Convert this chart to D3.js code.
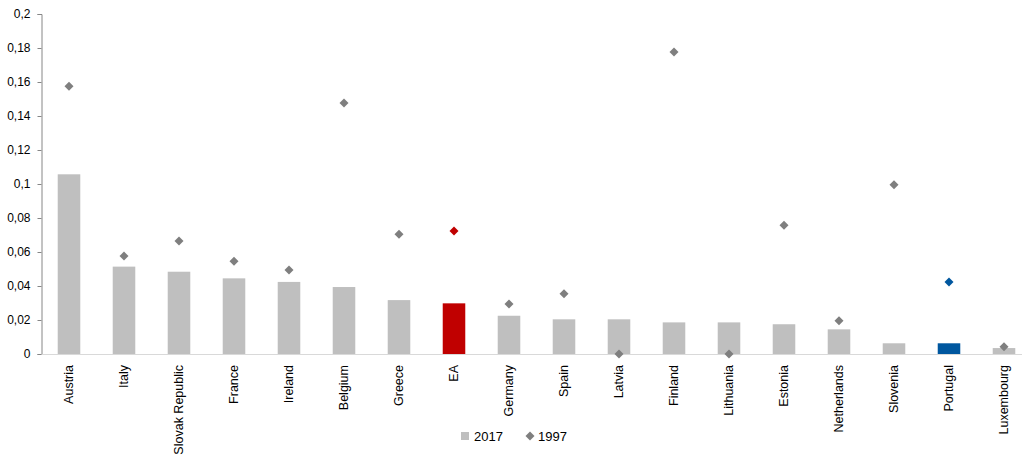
<!DOCTYPE html>
<html>
<head>
<meta charset="utf-8">
<script src="https://cdn.jsdelivr.net/npm/d3@7"></script>
<style>
  html, body { margin: 0; padding: 0; background: #fff; }
  svg { display: block; }
  text { font-family: "Liberation Sans", Arial, sans-serif; fill: #000; }
</style>
</head>
<body>
<svg id="chart" width="1022" height="458"></svg>
<script>
const categories = ["Austria","Italy","Slovak Republic","France","Ireland","Belgium","Greece","EA","Germany","Spain","Latvia","Finland","Lithuania","Estonia","Netherlands","Slovenia","Portugal","Luxembourg"];
const values2017 = [0.1057,0.0514,0.0484,0.0445,0.0424,0.0394,0.0317,0.0298,0.0225,0.0204,0.0204,0.0186,0.0186,0.0175,0.0145,0.0063,0.0063,0.0035];
const values1997 = [0.1575,0.0576,0.0665,0.0545,0.0494,0.1476,0.0704,0.0724,0.0294,0.0355,0.0000,0.1776,0.0000,0.0757,0.0196,0.0996,0.0424,0.0043];
const yTicks = [0,0.02,0.04,0.06,0.08,0.1,0.12,0.14,0.16,0.18,0.2];
const seriesNames = ["2017","1997"];

const svg = d3.select("#chart");
const mLeft = 41.5, mRight = 1031.5, mTop = 14, mBottom = 354;

const x = d3.scaleBand().domain(categories).range([mLeft, mRight]).paddingInner(0.59).paddingOuter(0.295);
const y = d3.scaleLinear().domain([0, 0.2]).range([mBottom, mTop]);

const barColor = c => c === "EA" ? "#c00000" : (c === "Portugal" ? "#00579f" : "#bfbfbf");
const dotColor = c => c === "EA" ? "#c00000" : (c === "Portugal" ? "#00579f" : "#7f7f7f");
const diamond = r => `M0,${-r}L${r},0L0,${r}L${-r},0Z`;
const fmt = v => String(+v.toFixed(2)).replace(".", ",");

// Y axis
const yAxis = svg.append("g").attr("transform", `translate(${mLeft},0)`)
  .call(d3.axisLeft(y).tickValues(yTicks).tickSize(4).tickPadding(7).tickFormat(fmt));
yAxis.select(".domain").attr("stroke", "#868686");
yAxis.selectAll(".tick line").attr("stroke", "#868686");
yAxis.selectAll(".tick text").attr("font-size", "12px").attr("fill", "#000").style("font-family", "'Liberation Sans', Arial, sans-serif");

// Bars
svg.append("g").selectAll("rect").data(categories).join("rect")
  .attr("x", c => x(c))
  .attr("width", x.bandwidth())
  .attr("y", (c, i) => y(values2017[i]))
  .attr("height", (c, i) => y(0) - y(values2017[i]))
  .attr("fill", barColor);

// X axis
const xAxis = svg.append("g").attr("transform", `translate(0,${mBottom})`)
  .call(d3.axisBottom(x).tickSize(0).tickPadding(0));
xAxis.select(".domain").attr("stroke", "#d9d9d9").attr("d", `M${mLeft},0.5H${1022}`);
xAxis.selectAll(".tick text")
  .attr("transform", "rotate(-90)")
  .attr("text-anchor", "end")
  .attr("x", -11)
  .attr("y", 0)
  .attr("dy", "0.35em")
  .attr("font-size", "12.5px")
  .attr("fill", "#000")
  .style("font-family", "'Liberation Sans', Arial, sans-serif");

// Markers
svg.append("g").selectAll("path").data(categories).join("path")
  .attr("d", diamond(4.5))
  .attr("transform", (c, i) => `translate(${x(c) + x.bandwidth() / 2},${y(values1997[i])})`)
  .attr("fill", dotColor);

// Legend
const lg = svg.append("g").attr("font-size", "13px");
lg.append("rect").attr("x", 461).attr("y", 432).attr("width", 8).attr("height", 8).attr("fill", "#bfbfbf");
lg.append("text").attr("x", 474).attr("y", 436).attr("dy", "0.35em").text(seriesNames[0]);
lg.append("path").attr("d", diamond(4.5)).attr("transform", "translate(530,436)").attr("fill", "#7f7f7f");
lg.append("text").attr("x", 538).attr("y", 436).attr("dy", "0.35em").text(seriesNames[1]);
</script>
</body>
</html>
